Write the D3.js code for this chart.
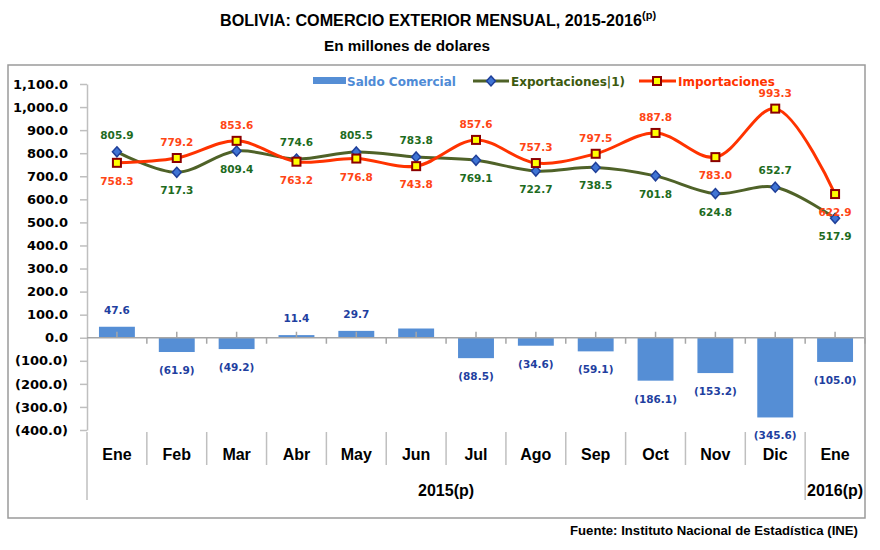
<!DOCTYPE html>
<html>
<head>
<meta charset="utf-8">
<script src="https://cdn.jsdelivr.net/npm/d3@7"></script>
<style>
  body { margin: 0; background: #fff; }
</style>
</head>
<body>
<div id="vizcontainer"></div>
<script>
const meses = ['Ene', 'Feb', 'Mar', 'Abr', 'May', 'Jun', 'Jul', 'Ago', 'Sep', 'Oct', 'Nov', 'Dic', 'Ene'];
const anios = [{ label: '2015(p)', desde: 0, hasta: 12 }, { label: '2016(p)', desde: 12, hasta: 13 }];

const exportaciones = [805.9, 717.3, 809.4, 774.6, 805.5, 783.8, 769.1, 722.7, 738.5, 701.8, 624.8, 652.7, 517.9];
const importaciones = [758.3, 779.2, 853.6, 763.2, 776.8, 743.8, 857.6, 757.3, 797.5, 887.8, 783.0, 993.3, 622.9];
const saldo = [47.6, -61.9, -49.2, 11.4, 29.7, 40.0, -88.5, -34.6, -59.1, -186.1, -153.2, -345.6, -105.0];

// donde va la etiqueta de cada punto: 'a' arriba, 'b' abajo, '' sin etiqueta
const expPos = ['a', 'b', 'b', 'a', 'a', 'a', 'b', 'b', 'b', 'b', 'b', 'a', 'b'];
const impPos = ['b', 'a', 'a', 'b', 'b', 'b', 'a', 'a', 'a', 'a', 'b', 'a', 'b'];
const saldoPos = ['a', 'b', 'b', 'a', 'a', '', 'b', 'b', 'b', 'b', 'b', 'b', 'b'];

const yTicks = [-400, -300, -200, -100, 0, 100, 200, 300, 400, 500, 600, 700, 800, 900, 1000, 1100];

const
  width = 880,
  height = 550;

const azul = '#558ED5',
  verde = '#4F6228',
  rojo = '#FF3300';

const viz = d3.select('#vizcontainer')
  .append('svg')
  .attr('width', width)
  .attr('height', height);

const fmt = d3.format(',.1f');
const fmtNum = v => v < 0 ? '(' + fmt(-v) + ')' : fmt(v);

// marco
viz.append('rect')
  .attr('x', 8).attr('y', 65)
  .attr('width', 857).attr('height', 453)
  .attr('fill', 'none')
  .attr('stroke', '#9a9a9a')
  .attr('stroke-width', 1.5);

// titulos
const titulo = viz.append('text')
  .attr('x', 220).attr('y', 26)
  .attr('font-family', 'Liberation Sans, Arial, sans-serif')
  .attr('font-weight', 'bold')
  .attr('font-size', 16)
  .attr('fill', '#000');
titulo.append('tspan')
  .attr('textLength', 422)
  .attr('lengthAdjust', 'spacingAndGlyphs')
  .text('BOLIVIA: COMERCIO EXTERIOR MENSUAL, 2015-2016');
titulo.append('tspan')
  .attr('dy', -7)
  .attr('font-size', 11)
  .text('(p)');

viz.append('text')
  .attr('x', 324).attr('y', 51)
  .attr('font-family', 'Liberation Sans, Arial, sans-serif')
  .attr('font-weight', 'bold')
  .attr('font-size', 14)
  .attr('textLength', 166)
  .attr('lengthAdjust', 'spacingAndGlyphs')
  .text('En millones de dolares');

viz.append('text')
  .attr('x', 570).attr('y', 535)
  .attr('font-family', 'Liberation Sans, Arial, sans-serif')
  .attr('font-weight', 'bold')
  .attr('font-size', 13)
  .attr('textLength', 288)
  .attr('lengthAdjust', 'spacingAndGlyphs')
  .text('Fuente: Instituto Nacional de Estadística (INE)');

// escalas
const idx = d3.range(meses.length);

const x = d3.scaleBand()
  .domain(idx)
  .range([87, 865])
  .paddingInner(0.4)
  .paddingOuter(0.2);

const step = x.step();
const xc = i => x(i) + x.bandwidth() / 2;
const xb = i => x.range()[0] + step * i;

const y = d3.scaleLinear()
  .domain([-400, 1100])
  .range([430, 84]);

// eje y
const yAxis = viz.append('g')
  .attr('transform', 'translate(87,0)')
  .call(d3.axisLeft(y).tickValues(yTicks).tickSize(7).tickPadding(12).tickFormat(fmtNum).tickSizeOuter(0));
yAxis.select('.domain').attr('stroke', '#bfbfbf').attr('stroke-width', 1.5);
yAxis.selectAll('.tick line').attr('stroke', '#bfbfbf').attr('stroke-width', 1.5);
yAxis.selectAll('.tick text')
  .attr('font-family', 'DejaVu Sans, Verdana, sans-serif')
  .attr('font-weight', 'bold')
  .attr('font-size', 13)
  .attr('fill', '#000');

// barras saldo
viz.append('g')
  .selectAll('rect')
  .data(idx)
  .join('rect')
  .attr('x', i => x(i))
  .attr('width', x.bandwidth())
  .attr('y', i => y(Math.max(0, saldo[i])))
  .attr('height', i => Math.abs(y(saldo[i]) - y(0)))
  .attr('fill', azul);

// linea cero con marcas
viz.append('line')
  .attr('x1', 87).attr('x2', 864)
  .attr('y1', y(0)).attr('y2', y(0))
  .attr('stroke', '#a6a6a6')
  .attr('stroke-width', 1.5);

viz.append('g')
  .selectAll('line')
  .data(d3.range(1, meses.length + 1))
  .join('line')
  .attr('x1', i => xb(i)).attr('x2', i => xb(i))
  .attr('y1', y(0)).attr('y2', y(0) + 6)
  .attr('stroke', '#a6a6a6')
  .attr('stroke-width', 1.5);

viz.append('g')
  .selectAll('line')
  .data(idx)
  .join('line')
  .attr('x1', i => xc(i)).attr('x2', i => xc(i))
  .attr('y1', y(0)).attr('y2', y(0) - 6)
  .attr('stroke', '#a6a6a6')
  .attr('stroke-width', 1.5);

// separadores de categorias
const largos = anios.map(a => a.desde).concat([]);
viz.append('g')
  .selectAll('line')
  .data(d3.range(0, meses.length))
  .join('line')
  .attr('x1', i => xb(i)).attr('x2', i => xb(i))
  .attr('y1', 432)
  .attr('y2', i => largos.includes(i) ? 500 : 465)
  .attr('stroke', '#bfbfbf')
  .attr('stroke-width', 1.5);

viz.append('g')
  .selectAll('text')
  .data(idx)
  .join('text')
  .attr('x', i => xc(i))
  .attr('y', 460)
  .attr('text-anchor', 'middle')
  .attr('font-family', 'Liberation Sans, Arial, sans-serif')
  .attr('font-weight', 'bold')
  .attr('font-size', 16)
  .text(i => meses[i]);

viz.append('g')
  .selectAll('text')
  .data(anios)
  .join('text')
  .attr('x', d => (xb(d.desde) + xb(d.hasta)) / 2)
  .attr('y', 496)
  .attr('text-anchor', 'middle')
  .attr('font-family', 'Liberation Sans, Arial, sans-serif')
  .attr('font-weight', 'bold')
  .attr('font-size', 16)
  .text(d => d.label);

// lineas
const linea = serie => d3.line()
  .x(i => xc(i))
  .y(i => y(serie[i]))
  .curve(d3.curveCatmullRom.alpha(0.5));

viz.append('path')
  .datum(idx)
  .attr('fill', 'none')
  .attr('stroke', verde)
  .attr('stroke-width', 3)
  .attr('d', linea(exportaciones));

viz.append('path')
  .datum(idx)
  .attr('fill', 'none')
  .attr('stroke', rojo)
  .attr('stroke-width', 3)
  .attr('d', linea(importaciones));

const diamante = (g, cx, cy) => g.append('path')
  .attr('d', `M${cx},${cy - 5}L${cx + 4.5},${cy}L${cx},${cy + 5}L${cx - 4.5},${cy}Z`)
  .attr('fill', '#3f74d4')
  .attr('stroke', '#1f3f99')
  .attr('stroke-width', 1.5);

const cuadro = (g, cx, cy) => g.append('rect')
  .attr('x', cx - 4).attr('y', cy - 4)
  .attr('width', 8).attr('height', 8)
  .attr('fill', '#ffff00')
  .attr('stroke', '#8b0000')
  .attr('stroke-width', 2);

const gMarcas = viz.append('g');
idx.forEach(i => diamante(gMarcas, xc(i), y(exportaciones[i])));
idx.forEach(i => cuadro(gMarcas, xc(i), y(importaciones[i])));

// etiquetas
const etiqueta = (g, cx, cy, txt, color) => g.append('text')
  .attr('x', cx).attr('y', cy)
  .attr('text-anchor', 'middle')
  .attr('font-family', 'DejaVu Sans, Verdana, sans-serif')
  .attr('font-weight', 'bold')
  .attr('font-size', 10.5)
  .attr('fill', color)
  .text(txt);

const gEtiq = viz.append('g');
idx.forEach(i => {
  const py = y(exportaciones[i]);
  etiqueta(gEtiq, xc(i), expPos[i] === 'a' ? py - 13 : py + 22, fmt(exportaciones[i]), '#1e6b1e');
});
idx.forEach(i => {
  const py = y(importaciones[i]);
  etiqueta(gEtiq, xc(i), impPos[i] === 'a' ? py - 12 : py + 22, fmt(importaciones[i]), '#ff4515');
});
idx.forEach(i => {
  if (!saldoPos[i]) return;
  const py = y(saldo[i]);
  etiqueta(gEtiq, xc(i), saldoPos[i] === 'a' ? py - 13 : py + 22, fmtNum(saldo[i]), '#1f3fa0');
});

// leyenda
const leyenda = viz.append('g');
leyenda.append('rect')
  .attr('x', 313).attr('y', 77)
  .attr('width', 33).attr('height', 7)
  .attr('fill', azul);
leyenda.append('line')
  .attr('x1', 473).attr('x2', 509)
  .attr('y1', 81).attr('y2', 81)
  .attr('stroke', verde).attr('stroke-width', 3);
diamante(leyenda, 491, 81);
leyenda.append('line')
  .attr('x1', 639).attr('x2', 676)
  .attr('y1', 81).attr('y2', 81)
  .attr('stroke', rojo).attr('stroke-width', 3);
cuadro(leyenda, 657, 81);

[
  { x: 347, t: 'Saldo Comercial', c: '#4f8bd6' },
  { x: 511, t: 'Exportaciones|1)', c: '#3d5a0f' },
  { x: 678, t: 'Importaciones', c: '#ff3300' }
].forEach(d => leyenda.append('text')
  .attr('x', d.x).attr('y', 86)
  .attr('font-family', 'DejaVu Sans, Verdana, sans-serif')
  .attr('font-weight', 'bold')
  .attr('font-size', 12)
  .attr('fill', d.c)
  .text(d.t));
</script>
</body>
</html>
